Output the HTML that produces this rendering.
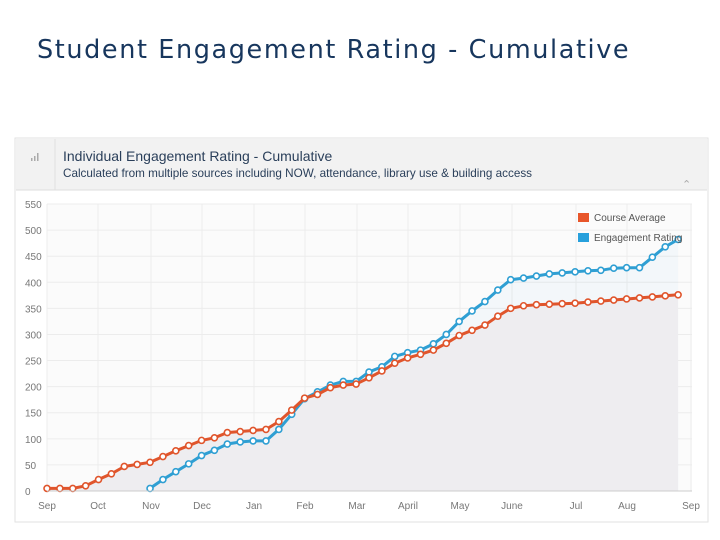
<!DOCTYPE html>
<html><head><meta charset="utf-8"><style>
body{margin:0;background:#fff;width:720px;height:540px;overflow:hidden;font-family:"Liberation Sans",sans-serif}
</style></head><body>
<div style="position:absolute;left:37px;top:35px;font-family:'DejaVu Sans',sans-serif;font-size:25.5px;color:#17365d;letter-spacing:1.6px;white-space:nowrap">Student Engagement Rating - Cumulative</div>
<svg id="c" width="720" height="540" style="position:absolute;left:0;top:0">
<rect x="15" y="138" width="693" height="384" fill="#fff" stroke="#e2e2e2"/>
<rect x="16" y="139" width="691" height="51" fill="#f2f2f2"/>
<line x1="16" y1="190" x2="707" y2="190" stroke="#dedede"/>
<line x1="55" y1="139" x2="55" y2="190" stroke="#e0e0e0"/>
<g fill="#aaa"><rect x="31" y="158" width="1.5" height="3"/><rect x="34" y="156" width="1.5" height="5"/><rect x="37" y="153" width="1.5" height="8"/></g>
<text x="63" y="161" font-size="14" fill="#2a3f5a">Individual Engagement Rating - Cumulative</text>
<text x="63" y="177" font-size="11.7" fill="#2a3f5a">Calculated from multiple sources including NOW, attendance, library use &amp; building access</text>
<text x="682" y="188" font-size="11" fill="#aaa">&#8963;</text>
<g id="grid"></g><g id="areas"></g><g id="lines"></g><g id="axes"></g>
<g>
<rect x="578" y="213" width="11" height="9" fill="#e8562a"/><text x="594" y="221" font-size="10" fill="#555">Course Average</text>
<rect x="578" y="233" width="11" height="9" fill="#27a0dc"/><text x="594" y="241" font-size="10" fill="#555">Engagement Rating</text>
</g>
</svg>
<script>
const months=["Sep","Oct","Nov","Dec","Jan","Feb","Mar","April","May","June","Jul","Aug","Sep"];
const monthX=[47,98,151,202,254,305,357,408,460,512,576,627,691];
const yTicks=[0,50,100,150,200,250,300,350,400,450,500,550];
const courseAvg=[5,5,5,10,22,33,47,51,55,66,77,87,97,102,112,114,116,118,133,155,178,185,198,203,205,217,230,245,255,262,270,283,298,308,318,335,350,355,357,358,359,360,362,364,366,368,370,372,374,376];
const engStart=8;
const engagement=[5,22,37,52,68,78,90,94,96,96,118,147,177,190,203,210,210,228,238,258,265,270,282,300,325,345,363,385,405,408,412,416,418,420,422,423,427,428,428,448,468,482];
const NS="http://www.w3.org/2000/svg";
const X=i=>47+i*12.88, Y=v=>491-v*0.5218;
function mk(t,a,p){const e=document.createElementNS(NS,t);for(const k in a)e.setAttribute(k,a[k]);p.appendChild(e);return e;}
const grid=document.getElementById('grid'),axes=document.getElementById('axes'),areas=document.getElementById('areas'),lines=document.getElementById('lines');
mk('rect',{x:47,y:204,width:645,height:287,fill:'#fbfbfb'},grid);
yTicks.forEach(v=>{const l=mk('line',{x1:47,x2:692,y1:Y(v),y2:Y(v),stroke:'#ececec'},grid);


const t=mk('text',{x:25,y:Y(v)+4,'font-size':10,fill:'#777'},axes);t.textContent=v;

});
months.forEach((m,i)=>{mk('line',{x1:monthX[i],x2:monthX[i],y1:204,y2:491,stroke:'#ececec'},grid);
const t=mk('text',{x:monthX[i],y:509,'font-size':10,fill:'#777','text-anchor':'middle'},axes);t.textContent=m;

});
mk('line',{x1:47,x2:692,y1:491,y2:491,stroke:'#ccc'},axes);
function series(vals,start,col,fill,name){
const pts=vals.map((v,i)=>[X(i+start),Y(v)]);
const d=pts.map((p,i)=>(i?'L':'M')+p[0].toFixed(1)+','+p[1].toFixed(1)).join('');
const a=mk('path',{d:d+`L${pts[pts.length-1][0]},491L${pts[0][0]},491Z`,fill:fill},areas);


const g=mk('g',{},lines);


mk('path',{d:d,fill:'none',stroke:col,'stroke-width':3},g);
pts.forEach(p=>{const c=mk('circle',{cx:p[0],cy:p[1],r:3,fill:'#fff',stroke:col,'stroke-width':1.6},g);

});
}
series(engagement,engStart,'#2f9fd3','rgba(39,160,220,0.04)','engagement-rating');
series(courseAvg,0,'#e0552c','#eeedf0','course-average');
</script>
</body></html>
